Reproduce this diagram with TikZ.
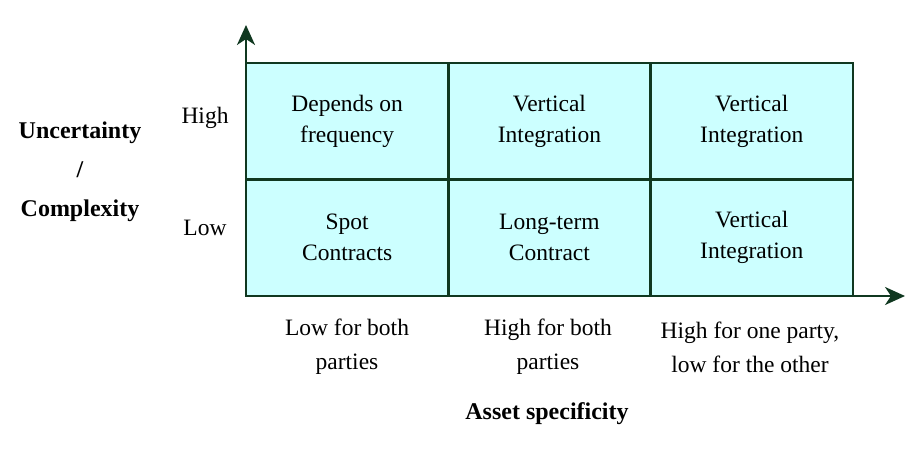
\documentclass[tikz,border=0pt]{standalone}
\usepackage{fontspec}
\setmainfont{Liberation Serif}
\usetikzlibrary{arrows.meta, positioning}
\definecolor{gridgreen}{RGB}{16,56,32}
\definecolor{cellcyan}{RGB}{204,255,255}
\def\cellw{202.3pt}
\def\cellh{116.5pt}
\tikzstyle{cell}=[draw=gridgreen, fill=cellcyan, line width=2.5pt,
    minimum width=\cellw, minimum height=\cellh, align=center,
    inner sep=0pt, outer sep=0pt]
\tikzstyle{lbl}=[align=center, inner sep=0pt]
\tikzstyle{axis}=[draw=gridgreen, line width=2.5pt,
    -{Stealth[length=20pt, width=18pt, inset=6pt]}]

\begin{document}
\begin{tikzpicture}[x=1pt, y=1pt, font=\fontsize{23.5}{31}\selectfont]
    \useasboundingbox (0,0) rectangle (905,459);
    % grid cells
    \node (lowspot) [cell] at (347.15,221.25) {Spot\\Contracts};
    \node (lowlong) [cell, right=0pt of lowspot] {Long-term\\Contract};
    \node (lowvert) [cell, right=0pt of lowlong] {Vertical\\Integration};
    \node (highdep) [cell, above=0pt of lowspot] {Depends on\\frequency};
    \node (highvert) [cell, above=0pt of lowlong] {Vertical\\Integration};
    \node (highvertb) [cell, above=0pt of lowvert] {Vertical\\Integration};
    % axes
    \coordinate (origin) at (lowspot.south west);
    \coordinate (ytip) at (246,434);
    \coordinate (xtip) at (905,163);
    \draw[axis] (origin) -- (ytip);
    \draw[axis] (origin) -- (xtip);
    % row labels
    \node (high) [lbl] at (205,341) {High};
    \node (low) [lbl] at (205,231) {Low};
    \node (uncert) [lbl, font=\fontsize{24}{39}\selectfont\bfseries] at (80,287)
        {Uncertainty\\/\\Complexity};
    % column labels
    \node (lblspot) [lbl, font=\fontsize{23.5}{34}\selectfont] at (347,112)
        {Low for both\\parties};
    \node (lbllong) [lbl, font=\fontsize{23.5}{34}\selectfont] at (548,112)
        {High for both\\parties};
    \node (lblvert) [lbl, font=\fontsize{23.5}{34}\selectfont] at (750,112)
        {High for one party,\\low for the other};
    \node (asset) [lbl, font=\fontsize{24}{31}\selectfont\bfseries] at (547,45)
        {Asset specificity};
\end{tikzpicture}
\end{document}
